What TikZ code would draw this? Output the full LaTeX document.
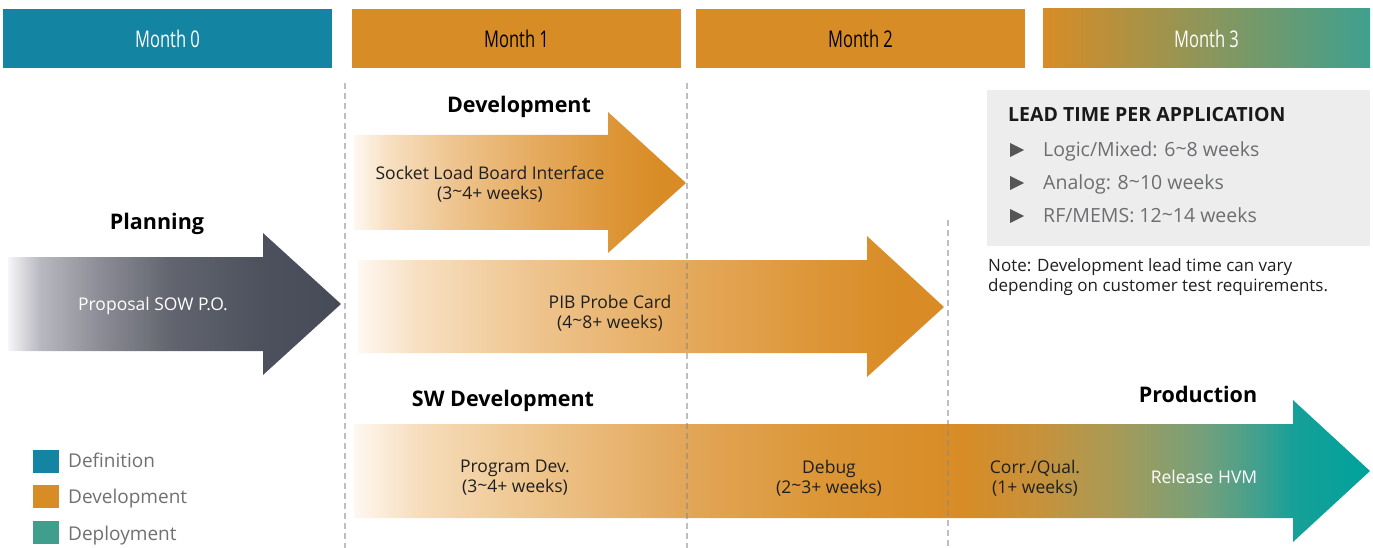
\documentclass[tikz,border=0pt]{standalone}
\usepackage{fontspec}
\setmainfont{Open Sans}
\definecolor{defblue}{HTML}{1385A3}
\definecolor{devor}{HTML}{D88C26}
\definecolor{depgr}{HTML}{3FA08F}
\definecolor{legteal}{HTML}{409E8C}
\definecolor{boxgray}{HTML}{EDEDED}
\definecolor{txtgray}{HTML}{6D6E71}
\definecolor{legtxt}{HTML}{707070}
\definecolor{bullet}{HTML}{555555}
\definecolor{dashc}{HTML}{8A8A8A}
% planning shading
\definecolor{pA}{HTML}{F6F6F8}
\definecolor{pB}{HTML}{B8B8C0}
\definecolor{pC}{HTML}{8C8C96}
\definecolor{pD}{HTML}{62656F}
\definecolor{pE}{HTML}{4D515D}
\definecolor{pF}{HTML}{464B57}
\pgfdeclarehorizontalshading{planshade}{100bp}{color(0bp)=(pA); color(25bp)=(pA); color(29.8bp)=(pB); color(38.8bp)=(pC); color(49.3bp)=(pD); color(63.3bp)=(pE); color(75bp)=(pF); color(100bp)=(pF)}
% orange shading
\definecolor{oA}{HTML}{FEF8F1}
\definecolor{oB}{HTML}{F7E0C2}
\definecolor{oC}{HTML}{EEC48E}
\definecolor{oD}{HTML}{E5AA5E}
\definecolor{oE}{HTML}{DC9434}
\definecolor{oF}{HTML}{D98C26}
\pgfdeclarehorizontalshading{orshade}{100bp}{color(0bp)=(oA); color(25bp)=(oA); color(30bp)=(oB); color(40bp)=(oC); color(52.5bp)=(oD); color(65bp)=(oE); color(71bp)=(oF); color(100bp)=(oF)}
% SW shading
\definecolor{sA}{HTML}{FEF8F1}
\definecolor{sB}{HTML}{F6DDBC}
\definecolor{sC}{HTML}{EFC994}
\definecolor{sD}{HTML}{E2A658}
\definecolor{sE}{HTML}{DB9535}
\definecolor{sF}{HTML}{D88C26}
\definecolor{sG}{HTML}{C8913A}
\definecolor{sH}{HTML}{AA9A55}
\definecolor{sI}{HTML}{74A07B}
\definecolor{sJ}{HTML}{3FA08F}
\definecolor{sK}{HTML}{16A098}
\definecolor{sL}{HTML}{00A29C}
\pgfdeclarehorizontalshading{swshade}{100bp}{color(0bp)=(sA); color(25bp)=(sA); color(28.2bp)=(sB); color(32.9bp)=(sC); color(41.4bp)=(sD); color(48.4bp)=(sE); color(54.8bp)=(sF); color(58.5bp)=(sG); color(62.2bp)=(sH); color(66.8bp)=(sI); color(69.6bp)=(sJ); color(71.2bp)=(sK); color(75bp)=(sL); color(100bp)=(sL)}
\tikzset{
  monthbox/.style={minimum width=329bp, minimum height=59bp, inner sep=0pt, outer sep=0pt},
  monthtxt/.style={font=\fontsize{23bp}{26bp}\selectfont},
  phase/.style={font=\fontsize{21.5bp}{24bp}\selectfont\bfseries, text=black},
  body/.style={font=\fontsize{17.5bp}{20bp}\selectfont, align=center, text=black!88},
  dashline/.style={draw=dashc, draw opacity=0.55, line width=2bp, dash pattern=on 6bp off 4bp},
  legbox/.style={minimum width=26bp, minimum height=23bp, inner sep=0pt},
  legtext/.style={font=\fontsize{19bp}{22bp}\selectfont, text=legtxt, anchor=base west, inner sep=0pt},
  itemtxt/.style={font=\fontsize{19.5bp}{22bp}\selectfont, text=txtgray, anchor=base west, inner sep=0pt},
}
\begin{document}
\begin{tikzpicture}[x=1bp,y=-1bp]
\useasboundingbox (0,0) rectangle (1373,548);
% month headers
\node[monthbox, fill=defblue, anchor=north west] (m0) at (3,9) {};
\node[monthbox, fill=devor, anchor=north west] (m1) at (352,9) {};
\node[monthbox, fill=devor, anchor=north west] (m2) at (696,9) {};
\shade[left color=devor, right color=depgr] (1043,9) rectangle (1370,68);
\node[monthbox, anchor=north west] (m3) at (1042,9) {};
\node[monthtxt, text=white] (m0t) at (m0.center) {\scalebox{0.72}[1]{Month 0}};
\node[monthtxt, text=black] (m1t) at (m1.center) {\scalebox{0.72}[1]{Month 1}};
\node[monthtxt, text=black] (m2t) at (m2.center) {\scalebox{0.72}[1]{Month 2}};
\node[monthtxt, text=white] (m3t) at (m3.center) {\scalebox{0.72}[1]{Month 3}};

% planning arrow
\shade[shading=planshade] (8,257) -- (263,257) -- (263,233) -- (341,304) -- (263,375) -- (263,351) -- (8,351) -- cycle;
\node[phase] (plan) at (157,224) {Planning};
\node[body, text=white] (prop) at (153,306) {Proposal SOW P.O.};

% socket arrow
\shade[shading=orshade] (354,135) -- (608,135) -- (608,112) -- (686,183) -- (608,253) -- (608,230) -- (354,230) -- cycle;
\node[phase] (dev) at (519,107) {Development};
\node[body] (sock) at (490,184) {Socket Load Board Interface\\(3\raisebox{0.1em}{\char`~}4+ weeks)};

% PIB arrow
\shade[shading=orshade] (358,260) -- (867,260) -- (867,236) -- (944,307) -- (867,377) -- (867,353) -- (358,353) -- cycle;
\node[body] (pib) at (610,313) {PIB Probe Card\\(4\raisebox{0.1em}{\char`~}8+ weeks)};

% SW arrow
\shade[shading=swshade] (354,424) -- (1293,424) -- (1293,400) -- (1370,471) -- (1293,542) -- (1293,518) -- (354,518) -- cycle;
\node[phase] (sw) at (503,401) {SW Development};
\node[phase] (prod) at (1198,394) {Production};
\node[body] (prog) at (515,478) {Program Dev.\\(3\raisebox{0.1em}{\char`~}4+ weeks)};
\node[body] (dbg) at (829,478) {Debug\\(2\raisebox{0.1em}{\char`~}3+ weeks)};
\node[body] (corr) at (1035,478) {Corr./Qual.\\(1+ weeks)};
\node[body, text=white] (rel) at (1204,477) {Release HVM};

% dashed lines
\draw[dashline] (345,83) -- (345,548);
\draw[dashline] (687,83) -- (687,548);
\draw[dashline] (948,220) -- (948,548);

% lead time box
\fill[boxgray] (987,90) rectangle (1370,246);
\node[font=\fontsize{19.5bp}{22bp}\selectfont\bfseries, anchor=base west, inner sep=0pt, text=black!90] (lt) at (1008,122) {LEAD TIME PER APPLICATION};
\foreach \yy in {150,183,216} {
  \fill[bullet] (1010,\yy-7) -- (1024,\yy) -- (1010,\yy+7) -- cycle;
}
\node[itemtxt] (i1) at (1043,157) {Logic/Mixed: 6\raisebox{0.1em}{\char`~}8 weeks};
\node[itemtxt] (i2) at (1043,190) {Analog: 8\raisebox{0.1em}{\char`~}10 weeks};
\node[itemtxt] (i3) at (1043,223) {RF/MEMS: 12\raisebox{0.1em}{\char`~}14 weeks};
\node[font=\fontsize{17bp}{20bp}\selectfont, anchor=north west, inner sep=0pt, align=left, text=black!88] (note) at (988,258) {Note: Development lead time can vary\\depending on customer test requirements.};

% legend
\node[legbox, fill=defblue, anchor=north west] (l1) at (33,450) {};
\node[legbox, fill=devor, anchor=north west] (l2) at (33,485) {};
\node[legbox, fill=legteal, anchor=north west] (l3) at (33,521) {};
\node[legtext] (l1t) at (68,467) {Definition};
\node[legtext] (l2t) at (68,503) {Development};
\node[legtext] (l3t) at (68,540) {Deployment};
\end{tikzpicture}
\end{document}
